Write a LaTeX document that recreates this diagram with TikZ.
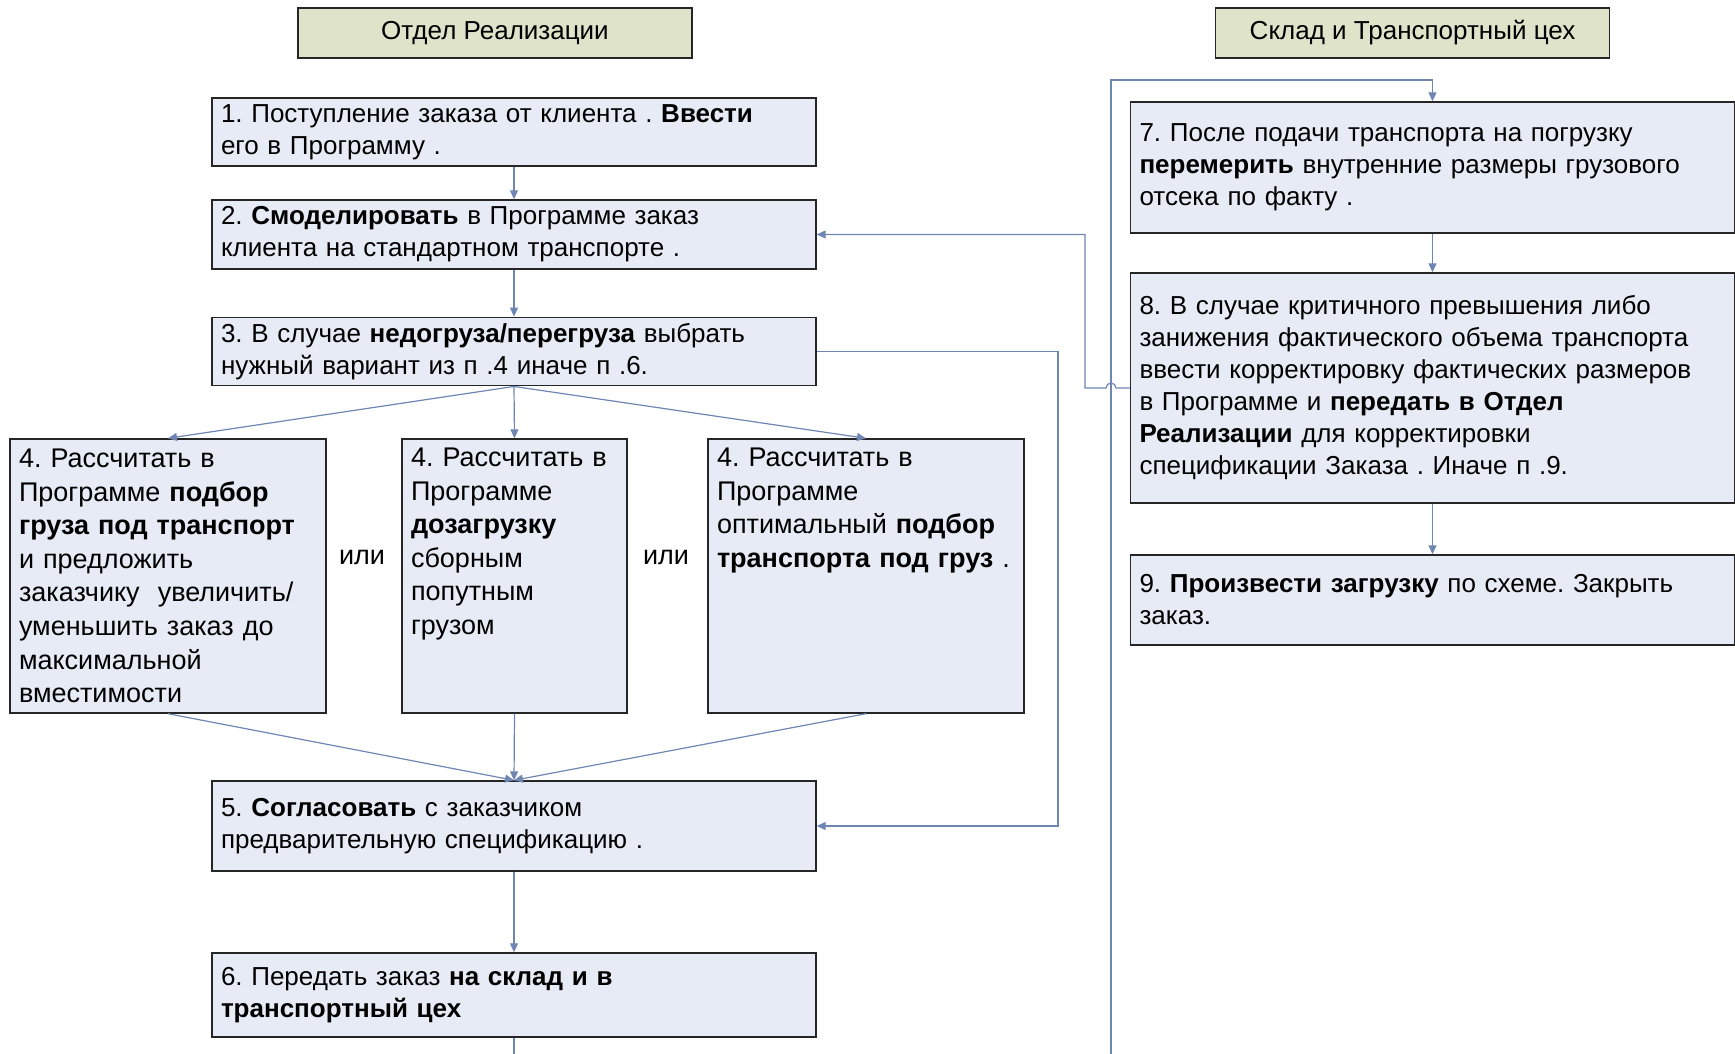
\documentclass[tikz,border=0pt]{standalone}
\usepackage{fontspec}
\setmainfont{Liberation Sans}
\usetikzlibrary{arrows.meta,positioning,calc}
\definecolor{boxfill}{HTML}{E6EBF5}
\definecolor{headfill}{HTML}{DFE3C9}
\definecolor{linecol}{HTML}{6F86B3}
\frenchspacing

\begin{document}
\begin{tikzpicture}[
x=0.5pt,y=-0.5pt,
box/.style={draw=black!85,fill=boxfill,line width=0.7pt,inner xsep=4.5pt,inner ysep=3pt,align=left,
  font=\fontsize{13}{16}\selectfont},
wide/.style={box,text width=293pt,minimum height=#1},
alt/.style={box,text width=#1,minimum height=137pt,font=\fontsize{13.5}{16.8}\selectfont},
head/.style={draw=black!85,fill=headfill,line width=0.7pt,minimum width=197pt,minimum height=25pt,
  font=\fontsize{13}{16}\selectfont},
edge/.style={-{Triangle[length=4.5pt,width=4pt]},draw=linecol,line width=0.6pt},
link/.style={draw=linecol,line width=0.6pt},
orlab/.style={font=\fontsize{13.5}{16}\selectfont}
]
\useasboundingbox (0,0) rectangle (1735,1054);
\node[head] (hL) at (495,33) {Отдел Реализации};
\node[head] (hR) at (1412.5,33) {Склад и Транспортный цех};
\node[wide=34pt] (c1) at (514,132) {1. Поступление заказа от клиента . \textbf{Ввести}\\ его в Программу .};
\node[wide=34.5pt] (c2) at (514,234.5) {2. \textbf{Смоделировать} в Программе заказ\\ клиента на стандартном транспорте .};
\node[wide=33.5pt] (c3) at (514,351.5) {3. В случае \textbf{недогруза/перегруза} выбрать\\ нужный вариант из п .4 иначе п .6.};
\node[alt=149pt] (c4a) at (168,576) {4. Рассчитать в\\ Программе \textbf{подбор}\\ \textbf{груза под транспорт}\\ и предложить\\ заказчику~ увеличить/\\ уменьшить заказ до\\ максимальной\\ вместимости};
\node[alt=103.5pt] (c4b) at (514.5,576) {\parbox[c][128pt][t]{103.5pt}{\raggedright 4. Рассчитать в\\ Программе\\ \textbf{дозагрузку}\\ сборным\\ попутным\\ грузом}};
\node[alt=149pt] (c4c) at (866,576) {\parbox[c][128pt][t]{149pt}{\raggedright 4. Рассчитать в\\ Программе\\ оптимальный \textbf{подбор}\\ \textbf{транспорта под груз} .}};
\node[orlab] (or1) at (362,557) {или};
\node[orlab] (or2) at (666,557) {или};
\node[wide=45pt] (c5) at (514,826) {5. \textbf{Согласовать} с заказчиком\\ предварительную спецификацию .};
\node[wide=42pt] (c6) at (514,995) {6. Передать заказ \textbf{на склад и в}\\ \textbf{транспортный цех}};
\node[wide=65.5pt] (c7) at (1432.5,167.5) {7. После подачи транспорта на погрузку\\ \textbf{перемерить} внутренние размеры грузового\\ отсека по факту .};
\node[wide=115pt] (c8) at (1432.5,388) {8. В случае критичного превышения либо\\ занижения фактического объема транспорта\\ ввести корректировку фактических размеров\\ в Программе и \textbf{передать в Отдел}\\ \textbf{Реализации} для корректировки\\ спецификации Заказа . Иначе п .9.};
\node[wide=45pt] (c9) at (1432.5,600) {9. \textbf{Произвести загрузку} по схеме. Закрыть\\ заказ.};
\coordinate (r35) at (1058,351.5);
\coordinate (b6) at (514,1054);
\coordinate (b7) at (1111,1054);
\coordinate (t7) at (1111,80);
\coordinate (j8) at (1116,388);
\coordinate (l8) at (1085,388);
\draw[edge] (c1) -- (c2);
\draw[edge] (c2) -- (c3);
\draw[edge] (c3.south) -- (c4a.north);
\draw[edge] (c3.south) -- (c4b.north);
\draw[edge] (c3.south) -- (c4c.north);
\draw[edge] (c4a.south) -- (c5.north);
\draw[edge] (c4b.south) -- (c5.north);
\draw[edge] (c4c.south) -- (c5.north);
\draw[edge] (c3.east) -- (r35) |- (c5.east);
\draw[edge] (c5) -- (c6);
\draw[link] (c6.south) -- (b6);
\draw[edge] (b7) -- (t7) -| (c7.north);
\draw[edge] (c7) -- (c8);
\draw[edge] (c8) -- (c9);
\draw[edge] (c8.west) -- (j8) arc[start angle=0,end angle=180,radius=2.5pt] -- (l8) |- (c2.east);
\end{tikzpicture}
\end{document}
